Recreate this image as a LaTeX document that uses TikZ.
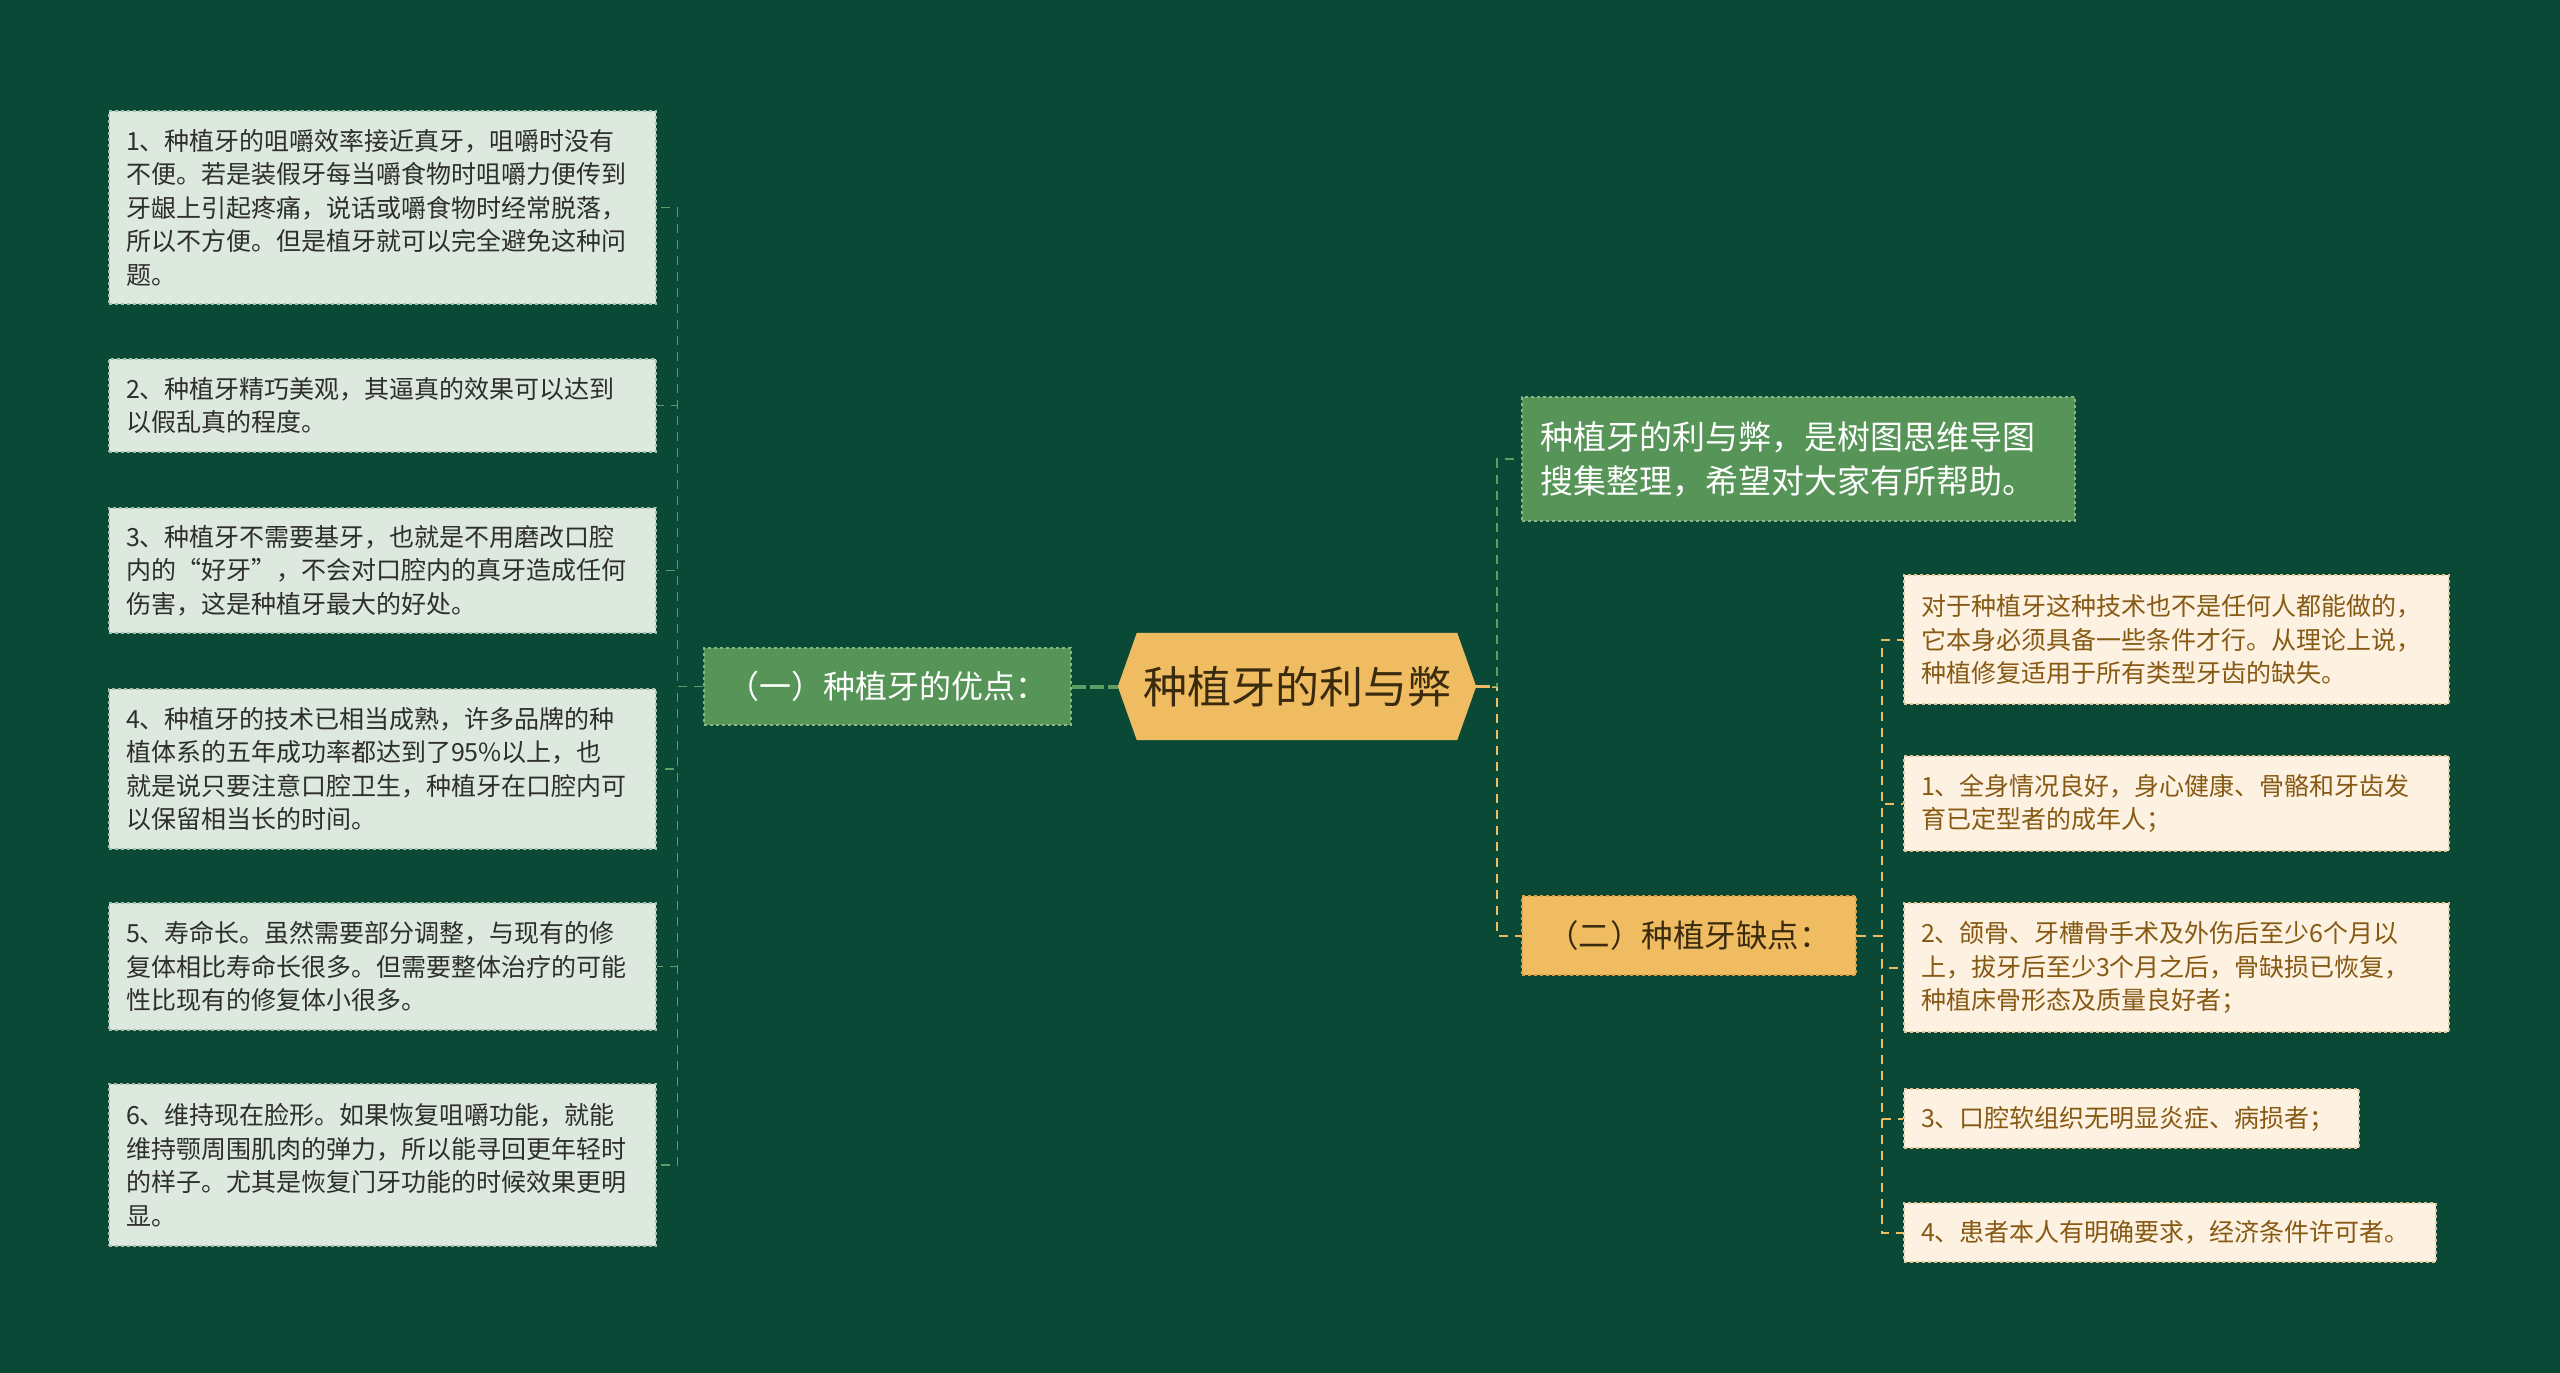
\documentclass[tikz,border=0pt]{standalone}
\usepackage{fontspec}
\setmainfont{Noto Sans CJK SC}
\definecolor{bg}{HTML}{0B4937}
\definecolor{gfill}{HTML}{569458}
\definecolor{gborder}{HTML}{86B888}
\definecolor{lfill}{HTML}{DDE8DF}
\definecolor{lborder}{HTML}{A9BFAE}
\definecolor{ltext}{HTML}{2E2E2E}
\definecolor{yfill}{HTML}{F0BC62}
\definecolor{yborder}{HTML}{D9A24A}
\definecolor{ytext}{HTML}{3A2A0E}
\definecolor{cfill}{HTML}{FDF1E1}
\definecolor{cborder}{HTML}{DCC9A2}
\definecolor{ctext}{HTML}{875A14}
\definecolor{gline}{HTML}{5C9E63}
\definecolor{yline}{HTML}{F0BC62}
\tikzset{
  lbox/.style={fill=lfill, draw=lborder, dashed, line width=1.2pt, inner xsep=17pt, inner ysep=0pt,
    font=\fontsize{25}{33.5}\selectfont, text=ltext, align=left, text width=513pt},
  cbox/.style={fill=cfill, draw=cborder, dashed, line width=1.2pt, inner xsep=17pt, inner ysep=0pt,
    font=\fontsize{25}{33.5}\selectfont, text=ctext, align=left},
  gbox/.style={fill=gfill, draw=gborder, dashed, line width=1.2pt, inner xsep=18pt, inner ysep=0pt,
    text=white, align=left},
  ybox/.style={fill=yfill, draw=yborder, dashed, line width=1.2pt, inner sep=0pt, text=ytext, align=center},
  lconn/.style={draw=gline, dashed, dash pattern=on 9pt off 7pt, line width=1.8pt},
  yconn/.style={draw=yline, dashed, dash pattern=on 9pt off 7pt, line width=2pt},
}
\begin{document}
\begin{tikzpicture}[x=1pt,y=-1pt]
\fill[bg] (0,0) rectangle (2560,1373);
\useasboundingbox (0,0) rectangle (2560,1373);

% center
\node[minimum width=358pt, minimum height=107pt, inner sep=0pt, font=\fontsize{44}{50}\selectfont, text=ytext] (c) at (1297,686.5) {种植牙的利与弊};
\fill[yfill] (c.west) -- ([xshift=19pt]c.north west) -- ([xshift=-19pt]c.north east) -- (c.east)
  -- ([xshift=-19pt]c.south east) -- ([xshift=19pt]c.south west) -- cycle;
\node[minimum width=358pt, minimum height=107pt, inner sep=0pt, font=\fontsize{44}{50}\selectfont, text=ytext] at (c) {种植牙的利与弊};

% first level
\node[gbox, align=center, inner sep=0pt, minimum width=367pt, minimum height=77pt, font=\fontsize{32}{38}\selectfont, text=white] (u1) at (887.5,686.5) {（一）种植牙的优点：};
\node[gbox, text width=517pt, minimum height=124pt, font=\fontsize{33}{44}\selectfont] (t) at (1798.5,459) {种植牙的利与弊，是树图思维导图\\搜集整理，希望对大家有所帮助。};
\node[ybox, minimum width=334pt, minimum height=79pt, font=\fontsize{31.5}{38}\selectfont] (u2) at (1689,935.5) {（二）种植牙缺点：};

% left leaves
\node[lbox, minimum height=193pt] (l1) at (382.5,207.5) {1、种植牙的咀嚼效率接近真牙，咀嚼时没有\\不便。若是装假牙每当嚼食物时咀嚼力便传到\\牙龈上引起疼痛，说话或嚼食物时经常脱落，\\所以不方便。但是植牙就可以完全避免这种问\\题。};
\node[lbox, minimum height=93pt] (l2) at (382.5,405.5) {2、种植牙精巧美观，其逼真的效果可以达到\\以假乱真的程度。};
\node[lbox, minimum height=125pt] (l3) at (382.5,570.5) {3、种植牙不需要基牙，也就是不用磨改口腔\\内的“好牙”，不会对口腔内的真牙造成任何\\伤害，这是种植牙最大的好处。};
\node[lbox, minimum height=160pt] (l4) at (382.5,769) {4、种植牙的技术已相当成熟，许多品牌的种\\植体系的五年成功率都达到了95\%以上，也\\就是说只要注意口腔卫生，种植牙在口腔内可\\以保留相当长的时间。};
\node[lbox, minimum height=127pt] (l5) at (382.5,966.5) {5、寿命长。虽然需要部分调整，与现有的修\\复体相比寿命长很多。但需要整体治疗的可能\\性比现有的修复体小很多。};
\node[lbox, minimum height=162pt] (l6) at (382.5,1165) {6、维持现在脸形。如果恢复咀嚼功能，就能\\维持颚周围肌肉的弹力，所以能寻回更年轻时\\的样子。尤其是恢复门牙功能的时候效果更明\\显。};

% right leaves
\node[cbox, text width=511pt, minimum height=129pt] (r1) at (2176.5,639.5) {对于种植牙这种技术也不是任何人都能做的，\\它本身必须具备一些条件才行。从理论上说，\\种植修复适用于所有类型牙齿的缺失。};
\node[cbox, text width=511pt, minimum height=95pt] (r2) at (2176.5,803.5) {1、全身情况良好，身心健康、骨骼和牙齿发\\育已定型者的成年人；};
\node[cbox, text width=511pt, minimum height=129pt] (r3) at (2176.5,967.5) {2、颌骨、牙槽骨手术及外伤后至少6个月以\\上，拔牙后至少3个月之后，骨缺损已恢复，\\种植床骨形态及质量良好者；};
\node[cbox, text width=421pt, minimum height=59pt] (r4) at (2131.5,1118.5) {3、口腔软组织无明显炎症、病损者；};
\node[cbox, text width=498pt, minimum height=59pt] (r5) at (2170,1232.5) {4、患者本人有明确要求，经济条件许可者。};

% connectors center
\draw[draw=gline, line width=4pt, dashed, dash pattern=on 14pt off 4pt] (u1.east) -- (c.west);
\draw[yconn] (c.east) -- ++(21,0) |- (u2.west);
\draw[lconn] (c.east) -- ++(21,0) |- (t.west);
\draw[draw=yline, line width=3pt] (c.east) -- ++(14,0);

% left connectors
\foreach \n in {l1,l2,l3,l4,l5,l6}{
  \draw[lconn] (u1.west) -- ++(-26,0) |- (\n.east);
}
% right connectors
\foreach \n in {r1,r2,r3,r4,r5}{
  \draw[yconn] (u2.east) -- ++(25,0) |- (\n.west);
}
\end{tikzpicture}
\end{document}
